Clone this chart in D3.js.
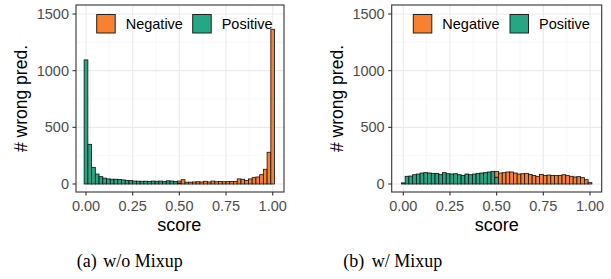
<!DOCTYPE html>
<html>
<head>
<meta charset="utf-8">
<script src="https://cdn.jsdelivr.net/npm/d3@7"></script>
<style>
  body { margin: 0; background: #fff; }
  text { font-family: "Liberation Sans", Arial, sans-serif; }
  .cap { font-family: "Liberation Serif", "Times New Roman", serif; font-size: 18px; fill: #000; }
</style>
</head>
<body>
<svg width="611" height="279"></svg>
<script>
// histogram bins: centers 0.00 .. 1.00, width 0.02
var binWidth = 0.02;
var binCenters = d3.range(51).map(function(i) { return +(i * binWidth).toFixed(2); });

var xTicks = [0, 0.25, 0.5, 0.75, 1.0];
var xTickLabels = ["0.00", "0.25", "0.50", "0.75", "1.00"];
var yTicks = [0, 500, 1000, 1500];
var legendLabels = ["Negative", "Positive"];

// (a) w/o Mixup
var leftPositive = [1095, 350, 147, 88, 65, 52, 45, 42, 42, 40, 36, 32, 30, 26, 25, 24, 25, 22, 26, 24,
                    26, 22, 28, 26, 22, 8, 0, 0, 0, 0, 0, 0, 0, 0, 0, 0, 0, 0, 0, 0,
                    0, 0, 0, 0, 0, 0, 0, 0, 0, 0, 0];
var leftNegative = [0, 0, 0, 0, 0, 0, 0, 0, 0, 0, 0, 0, 0, 0, 0, 0, 0, 0, 0, 0,
                    0, 0, 0, 0, 0, 18, 38, 16, 16, 18, 20, 18, 24, 18, 26, 20, 22, 20, 21, 22,
                    22, 45, 42, 30, 45, 56, 62, 82, 130, 280, 1365];

// (b) w/ Mixup
var rightPositive = [10, 68, 70, 82, 88, 97, 100, 97, 94, 94, 85, 100, 91, 88, 91, 82, 76, 88, 82, 88,
                     94, 97, 100, 106, 112, 60, 0, 0, 0, 0, 0, 0, 0, 0, 0, 0, 0, 0, 0, 0,
                     0, 0, 0, 0, 0, 0, 0, 0, 0, 0, 0];
var rightNegative = [0, 0, 0, 0, 0, 0, 0, 0, 0, 0, 0, 0, 0, 0, 0, 0, 0, 0, 0, 0,
                     0, 0, 0, 0, 0, 50, 97, 100, 106, 106, 97, 88, 91, 94, 85, 76, 65, 85, 76, 79,
                     76, 74, 76, 82, 74, 68, 62, 65, 56, 38, 12];

var colors = { Negative: "#F8802E", Positive: "#23A883" };

var svg = d3.select("svg");

function drawPanel(opt, pos, neg) {
    var g = svg.append("g");
    var x = d3.scaleLinear().domain([0, 1]).range([opt.x0, opt.x1]);
    var y = d3.scaleLinear().domain([0, 1500]).range([184, 14]);

    // grid
    var minorX = [0.125, 0.375, 0.625, 0.875], minorY = [250, 750, 1250];
    g.selectAll(".gmx").data(minorX).enter().append("line")
        .attr("x1", x).attr("x2", x).attr("y1", opt.top).attr("y2", opt.bottom)
        .attr("stroke", "#f3f3f3").attr("stroke-width", 0.6);
    g.selectAll(".gmy").data(minorY).enter().append("line")
        .attr("x1", opt.left).attr("x2", opt.right).attr("y1", y).attr("y2", y)
        .attr("stroke", "#f3f3f3").attr("stroke-width", 0.6);
    g.selectAll(".gx").data(xTicks).enter().append("line")
        .attr("x1", x).attr("x2", x).attr("y1", opt.top).attr("y2", opt.bottom)
        .attr("stroke", "#ebebeb").attr("stroke-width", 1.1);
    g.selectAll(".gy").data(yTicks).enter().append("line")
        .attr("x1", opt.left).attr("x2", opt.right).attr("y1", y).attr("y2", y)
        .attr("stroke", "#ebebeb").attr("stroke-width", 1.1);

    // stacked bars: Positive at bottom, Negative on top
    var rows = binCenters.map(function(c, i) {
        return { c: c, Positive: pos[i], Negative: neg[i] };
    });
    var series = d3.stack().keys(["Positive", "Negative"])(rows);
    series.forEach(function(s) {
        g.selectAll(".b" + s.key).data(s.filter(function(d) { return d[1] > d[0]; }))
            .enter().append("rect")
            .attr("x", function(d) { return x(d.data.c - binWidth / 2); })
            .attr("width", function(d) { return x(binWidth) - x(0); })
            .attr("y", function(d) { return y(d[1]); })
            .attr("height", function(d) { return y(d[0]) - y(d[1]); })
            .attr("fill", colors[s.key])
            .attr("stroke", "#111")
            .attr("stroke-width", 0.8);
    });

    // panel border
    g.append("rect")
        .attr("x", opt.left).attr("y", opt.top)
        .attr("width", opt.right - opt.left).attr("height", opt.bottom - opt.top)
        .attr("fill", "none").attr("stroke", "#333").attr("stroke-width", 1.1);

    // ticks
    g.selectAll(".tx").data(xTicks).enter().append("line")
        .attr("x1", x).attr("x2", x).attr("y1", opt.bottom).attr("y2", opt.bottom + 3.5)
        .attr("stroke", "#333").attr("stroke-width", 1.1);
    g.selectAll(".ty").data(yTicks).enter().append("line")
        .attr("x1", opt.left - 3.5).attr("x2", opt.left).attr("y1", y).attr("y2", y)
        .attr("stroke", "#333").attr("stroke-width", 1.1);
    g.selectAll(".lx").data(xTicks).enter().append("text")
        .attr("x", x).attr("y", 210.5)
        .attr("text-anchor", "middle")
        .attr("font-size", "14.5px").attr("fill", "#4d4d4d")
        .text(function(d, i) { return xTickLabels[i]; });
    g.selectAll(".ly").data(yTicks).enter().append("text")
        .attr("x", opt.left - 7).attr("y", function(d) { return y(d) + 5; })
        .attr("text-anchor", "end")
        .attr("font-size", "14.5px").attr("fill", "#4d4d4d")
        .text(function(d) { return d; });

    // axis titles
    g.append("text")
        .attr("x", x(0.5)).attr("y", 231)
        .attr("text-anchor", "middle").attr("font-size", "18px").attr("fill", "#000")
        .text("score");
    g.append("text")
        .attr("transform", "translate(" + opt.ylab + ",98.5) rotate(-90)")
        .attr("text-anchor", "middle").attr("font-size", "17.5px").attr("fill", "#000")
        .text("# wrong pred.");

    // legend
    var lg = g.append("g");
    legendLabels.forEach(function(k, i) {
        lg.append("rect")
            .attr("x", opt.leg[i]).attr("y", 14.5).attr("width", 18.5).attr("height", 18.5)
            .attr("fill", colors[k]).attr("stroke", "#222").attr("stroke-width", 1);
        lg.append("text")
            .attr("x", opt.leg[i] + 29).attr("y", 29)
            .attr("font-size", "14.5px").attr("fill", "#000")
            .text(k);
    });

    // caption
    svg.append("text").attr("class", "cap").attr("x", opt.cap[0]).attr("y", 267).text(opt.capA);
    svg.append("text").attr("class", "cap").attr("x", opt.cap[1]).attr("y", 267).text(opt.capB);
}

drawPanel({ left: 76, right: 284, top: 5, bottom: 192, x0: 86, x1: 272.7,
            ylab: 27, leg: [96.7, 192.7], cap: [76.7, 103.3], capA: "(a)", capB: "w/o Mixup" },
          leftPositive, leftNegative);
drawPanel({ left: 391.7, right: 601.7, top: 5, bottom: 192, x0: 403.3, x1: 590,
            ylab: 342.5, leg: [413.3, 510], cap: [343.3, 371.7], capA: "(b)", capB: "w/ Mixup" },
          rightPositive, rightNegative);
</script>
</body>
</html>
